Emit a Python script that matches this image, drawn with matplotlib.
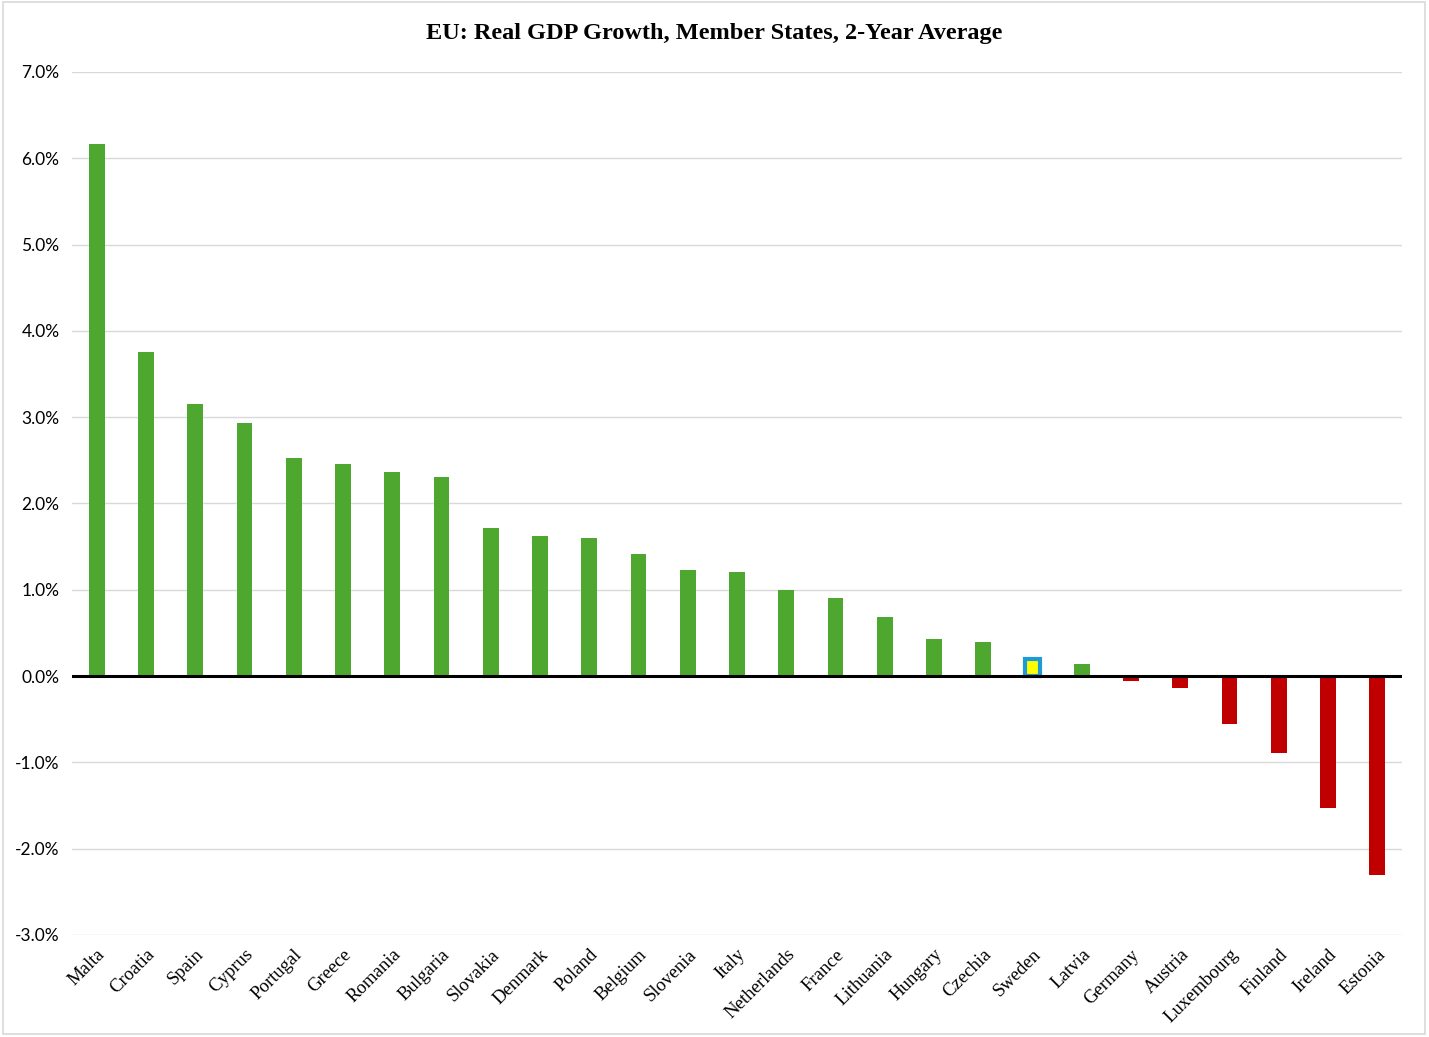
import matplotlib
matplotlib.use("Agg")
import matplotlib.pyplot as plt
from matplotlib.patches import Rectangle
from matplotlib.ticker import FuncFormatter, MultipleLocator

# Donnees (croissance moyenne sur 2 ans, en %)
pays = ["Malta", "Croatia", "Spain", "Cyprus", "Portugal", "Greece", "Romania",
        "Bulgaria", "Slovakia", "Denmark", "Poland", "Belgium", "Slovenia", "Italy",
        "Netherlands", "France", "Lithuania", "Hungary", "Czechia", "Sweden",
        "Latvia", "Germany", "Austria", "Luxembourg", "Finland", "Ireland", "Estonia"]
croissance = [6.17, 3.76, 3.15, 2.93, 2.53, 2.46, 2.36, 2.31, 1.72, 1.62, 1.60,
              1.41, 1.23, 1.21, 1.00, 0.91, 0.69, 0.43, 0.40, 0.20, 0.14,
              -0.06, -0.14, -0.55, -0.89, -1.53, -2.31]
pays_mis_en_avant = "Sweden"

vert = "#4EA72E"
rouge = "#C00000"

fig = plt.figure(figsize=(14.29, 10.37), dpi=100)
ax = fig.add_axes([0.0504, 0.0984, 0.9306, 0.8322])

x = list(range(len(pays)))
couleurs = [vert if v >= 0 else rouge for v in croissance]
barres = ax.bar(x, croissance, width=0.32, color=couleurs, zorder=3)
for b, p in zip(barres, pays):
    if p == pays_mis_en_avant:
        b.set_facecolor("#FFFF00")
        b.set_edgecolor("#1E9AD6")
        b.set_linewidth(3)

ax.set_xlim(-0.5, len(pays) - 0.5)
ax.set_ylim(-3.0, 7.0)
ax.yaxis.set_major_locator(MultipleLocator(1.0))
ax.yaxis.set_major_formatter(FuncFormatter(lambda v, pos: f"{v:.1f}%"))
ax.grid(axis="y", color="#D9D9D9", linewidth=1.0, zorder=0)
ax.axhline(0, color="black", linewidth=2.2, zorder=4)

for s in ax.spines.values():
    s.set_visible(False)
ax.tick_params(axis="both", length=0)
ax.tick_params(axis="y", pad=9)
for lab in ax.get_yticklabels():
    lab.set_fontfamily("Lato")
    lab.set_fontsize(12.5)

ax.set_xticks(x)
ax.set_xticklabels(pays, rotation=45, ha="right", rotation_mode="anchor",
                   fontfamily="Liberation Serif", fontsize=13.5)
ax.tick_params(axis="x", pad=8)

fig.suptitle("EU: Real GDP Growth, Member States, 2-Year Average",
             x=0.5, y=0.978, fontfamily="Liberation Serif", fontsize=17.5,
             fontweight="bold")

# cadre gris autour de la figure
fig.patches.append(Rectangle((0.002, 0.003), 0.995, 0.995, transform=fig.transFigure,
                             fill=False, edgecolor="#D9D9D9", linewidth=1.2))

fig.savefig("out.png", dpi=100)
